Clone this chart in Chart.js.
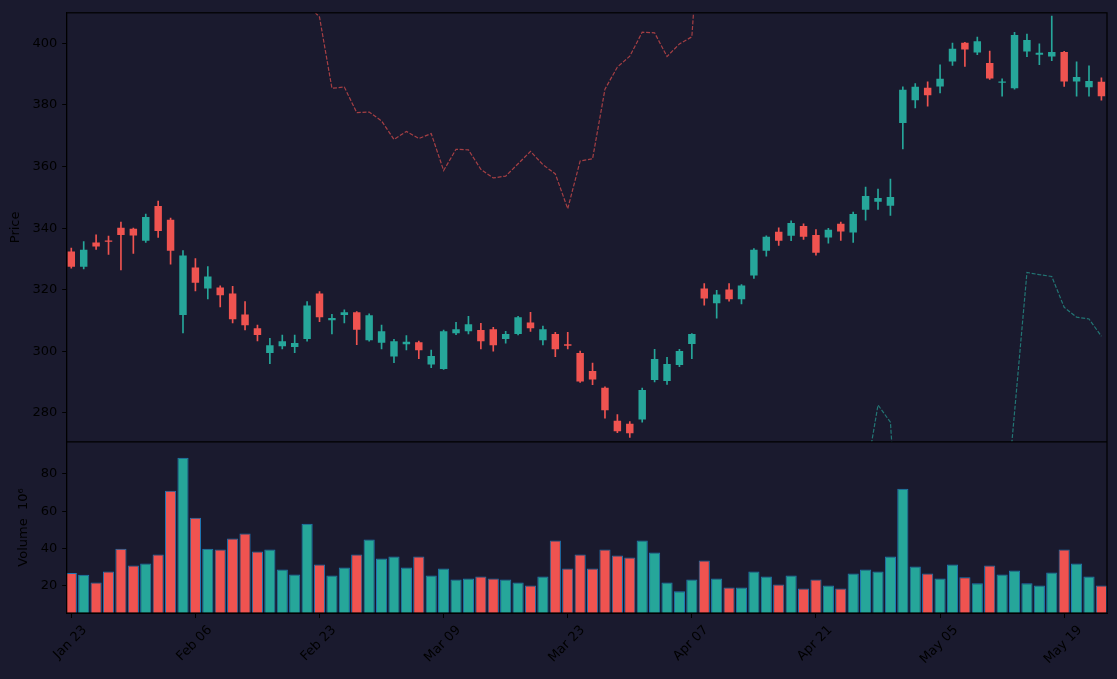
<!DOCTYPE html>
<html>
<head>
<meta charset="utf-8">
<script src="https://cdn.jsdelivr.net/npm/chart.js@4.4.1/dist/chart.umd.min.js"></script>
<style>
  html, body { margin: 0; padding: 0; background: #1a1a2e; }
  #wrap { width: 1117px; height: 679px; position: relative; }
</style>
</head>
<body>
<div id="wrap"><canvas id="c" width="1117" height="679"></canvas></div>
<script>
// ---------------- data ----------------
const dates = [
  "Jan 23","Jan 24","Jan 25","Jan 26","Jan 27","Jan 30","Jan 31","Feb 01","Feb 02","Feb 03",
  "Feb 06","Feb 07","Feb 08","Feb 09","Feb 10","Feb 13","Feb 14","Feb 15","Feb 16","Feb 17",
  "Feb 23","Feb 24","Feb 27","Feb 28","Mar 01","Mar 02","Mar 03","Mar 06","Mar 07","Mar 08",
  "Mar 09","Mar 10","Mar 13","Mar 14","Mar 15","Mar 16","Mar 17","Mar 20","Mar 21","Mar 22",
  "Mar 23","Mar 24","Mar 27","Mar 28","Mar 29","Mar 30","Mar 31","Apr 03","Apr 04","Apr 05",
  "Apr 07","Apr 10","Apr 11","Apr 12","Apr 13","Apr 14","Apr 17","Apr 18","Apr 19","Apr 20",
  "Apr 21","Apr 24","Apr 25","Apr 26","Apr 27","Apr 28","May 01","May 02","May 03","May 04",
  "May 05","May 08","May 09","May 10","May 11","May 12","May 15","May 16","May 17","May 18",
  "May 19","May 22","May 23","May 24"
];
const openP = [
  332.4,327.5,335.3,336.0,340.1,339.8,335.9,347.2,342.7,311.8,
  327.2,320.4,320.7,318.8,312.0,307.5,299.5,301.7,301.4,304.0,
  318.8,310.1,311.8,312.7,303.6,302.8,298.3,302.3,303.0,295.7,
  294.3,305.9,306.5,306.9,307.2,304.0,305.6,309.4,303.6,305.6,
  302.3,299.5,293.6,288.2,277.5,276.5,277.9,290.7,290.4,295.6,
  302.4,320.4,315.6,320.1,316.9,324.6,332.7,338.8,337.5,340.7,
  337.8,337.0,341.4,338.6,346.0,348.6,347.3,374.1,381.5,385.6,
  386.0,394.1,400.2,397.0,393.6,387.2,385.4,397.3,396.3,395.7,
  397.2,387.6,385.7,387.5
];
const highP = [
  333.5,335.6,337.8,337.4,342.0,340.0,344.6,348.8,343.3,332.7,
  330.1,327.5,321.3,321.1,316.2,308.5,304.2,305.3,305.3,316.2,
  319.4,312.0,313.5,312.9,312.2,308.5,303.9,305.1,303.3,300.4,
  306.9,309.4,311.4,309.1,307.8,306.5,311.4,312.7,308.2,306.2,
  306.2,300.1,296.2,288.5,279.5,277.2,288.1,300.7,298.1,300.7,
  305.8,322.0,319.8,322.0,321.7,333.4,337.5,340.1,342.4,341.4,
  339.5,339.9,342.0,345.2,353.3,352.7,355.9,385.9,386.9,387.5,
  393.0,400.1,400.3,402.0,397.5,388.5,403.6,403.0,399.8,408.8,
  397.4,394.0,392.7,388.8
];
const lowP = [
  327.0,326.8,333.1,331.5,326.4,331.8,335.4,337.0,328.3,306.0,
  319.6,317.0,314.4,309.2,307.0,303.4,296.0,300.8,299.6,303.3,
  309.6,305.7,309.2,302.2,303.3,300.8,296.3,300.5,297.6,294.7,
  294.1,305.4,305.7,300.8,300.1,302.7,305.3,306.5,302.1,298.3,
  300.8,289.9,289.2,278.3,273.6,272.1,277.0,290.1,289.3,295.0,
  297.6,315.0,310.8,316.3,315.4,323.7,330.9,334.4,335.9,336.3,
  331.2,335.1,336.0,335.4,342.6,346.1,344.1,365.7,379.0,379.6,
  383.9,392.8,392.5,396.3,388.3,382.8,385.1,395.7,393.1,394.4,
  386.0,382.8,382.8,381.5
];
const closeP = [
  327.5,333.0,334.0,335.6,337.8,337.6,343.6,339.1,332.7,331.1,
  322.3,324.3,318.2,310.4,308.5,305.3,302.0,303.3,302.7,314.9,
  311.1,310.8,312.7,307.0,311.7,306.5,303.3,303.1,300.4,298.5,
  306.5,307.2,308.8,303.3,302.0,305.6,311.1,307.5,307.2,300.7,
  301.8,290.2,290.9,280.9,274.1,273.4,287.5,297.5,295.9,300.1,
  305.6,317.2,318.5,316.9,321.4,333.0,337.2,335.9,341.7,337.2,
  332.0,339.5,338.9,344.6,350.4,349.8,350.1,384.9,385.9,383.1,
  388.5,398.2,398.0,400.7,388.6,387.6,402.7,401.1,396.9,397.2,
  387.6,389.1,387.8,382.8
];
// volume in millions (10^6)
const volume = [
  26.9,25.9,21.8,27.7,39.9,30.9,31.9,36.7,70.9,88.6,
  56.5,39.9,39.4,45.3,48.0,38.4,39.4,28.7,26.1,53.3,
  31.4,25.5,29.8,36.7,44.8,34.6,35.7,29.8,35.7,25.5,
  29.3,23.4,23.9,25.0,23.9,23.4,21.8,20.2,25.0,44.2,
  29.3,36.7,29.3,39.4,36.2,35.1,44.2,37.8,21.8,17.0,
  23.4,33.5,23.9,19.1,19.1,27.7,25.0,20.7,25.5,18.6,
  23.4,20.2,18.6,26.6,28.7,27.7,35.7,72.0,30.3,26.6,
  23.9,31.4,24.5,21.3,30.9,26.1,28.2,21.3,20.2,27.1,
  39.4,31.9,25.0,20.2
];
// dashed overlay lines (null = no value)
const upperLine = [
  null,null,null,null,null,null,null,null,null,null,
  null,null,null,null,null,null,null,null,null,412.7,
  408.5,385.4,385.8,377.5,377.7,374.8,368.8,371.4,369.1,370.7,
  358.7,365.6,365.4,359.1,356.3,356.9,360.9,364.9,360.6,357.6,
  346.3,361.8,362.5,385.1,392.3,395.8,403.6,403.4,395.7,399.8,
  402.1,460.0,null,null,null,null,null,null,null,null,
  null,null,null,null,null,null,null,null,null,null,
  null,null,null,null,null,null,null,null,null,null,
  null,null,null,null
];
const lowerLine = [
  null,null,null,null,null,null,null,null,null,null,
  null,null,null,null,null,null,null,null,null,null,
  null,null,null,null,null,null,null,null,null,null,
  null,null,null,null,null,null,null,null,null,null,
  null,null,null,null,null,null,null,null,null,null,
  null,null,null,null,null,null,null,null,null,null,
  null,null,null,null,259.0,282.6,277.0,215.0,null,null,
  null,null,null,null,null,235.0,280.2,325.6,324.9,324.3,
  314.3,311.1,310.5,304.9
];
const tickIdx = [0,10,20,30,40,50,60,70,80];
const priceTicks = [280,300,320,340,360,380,400];
const volTicks = [20,40,60,80];

// ---------------- styling ----------------
const UP = '#26a69a', DOWN = '#ef5350';
const FONT = '"DejaVu Sans", sans-serif';
const FS = 13;
Chart.defaults.font.family = FONT;
Chart.defaults.font.size = FS;
Chart.defaults.color = '#000';

const candleColors = closeP.map((c, i) => (c >= openP[i] ? UP : DOWN));
const pts = (arr) => arr.map((v, i) => ({ x: i, y: v }));

const framePlugin = {
  id: 'frame',
  afterDatasetsDraw(chart) {
    const { ctx, chartArea: a, scales } = chart;
    ctx.save();
    ctx.strokeStyle = '#000';
    ctx.lineWidth = 1.2;
    ctx.strokeRect(a.left, a.top, a.right - a.left, a.bottom - a.top);
    const yb = scales.y.bottom;
    ctx.beginPath();
    ctx.moveTo(a.left, yb);
    ctx.lineTo(a.right, yb);
    ctx.stroke();
    ctx.restore();
  }
};

const xLabelPlugin = {
  id: 'xlabels',
  afterDraw(chart) {
    const s = chart.scales.x;
    const ctx = chart.ctx;
    ctx.save();
    ctx.font = FS + 'px ' + FONT;
    ctx.fillStyle = '#000';
    ctx.textAlign = 'center';
    ctx.textBaseline = 'middle';
    for (const i of tickIdx) {
      const label = dates[i];
      const x = s.getPixelForValue(i);
      const w = ctx.measureText(label).width;
      const h = FS * 1.1;
      const half = (w + h) * Math.SQRT1_2 / 2;
      const cy = s.top + 10 + half;
      ctx.save();
      ctx.translate(x - 1, cy);
      ctx.rotate(-Math.PI / 4);
      ctx.fillText(label, 0, 0);
      ctx.restore();
    }
    ctx.restore();
  }
};

const yTickCommon = {
  grid: { display: true, drawOnChartArea: false, drawTicks: true, tickLength: 4.5, tickColor: '#000', tickWidth: 1 },
  border: { display: true, color: '#000', width: 1 },
  ticks: { color: '#000', padding: 5, font: { size: FS, family: FONT } },
  afterFit: (a) => { a.width = 66.7; }
};

new Chart(document.getElementById('c'), {
  type: 'bar',
  data: {
    datasets: [
      {
        type: 'bar', label: 'body', yAxisID: 'y', grouped: false,
        data: openP.map((o, i) => ({ x: i, y: [o, closeP[i]] })),
        backgroundColor: candleColors, borderWidth: 0,
        barPercentage: 0.6, categoryPercentage: 1.0
      },
      {
        type: 'bar', label: 'wick', yAxisID: 'y', grouped: false,
        data: lowP.map((l, i) => ({ x: i, y: [l, highP[i]] })),
        backgroundColor: candleColors, borderWidth: 0,
        barThickness: 1
      },
      {
        type: 'line', label: 'upper', yAxisID: 'y',
        data: pts(upperLine),
        borderColor: 'rgba(239,83,80,0.65)', borderWidth: 1.2, borderDash: [4, 1.7],
        pointRadius: 0, fill: false, tension: 0, spanGaps: false
      },
      {
        type: 'line', label: 'lower', yAxisID: 'y',
        data: pts(lowerLine),
        borderColor: 'rgba(38,166,154,0.65)', borderWidth: 1.2, borderDash: [4, 1.7],
        pointRadius: 0, fill: false, tension: 0, spanGaps: false
      },
      {
        type: 'bar', label: 'volume', yAxisID: 'yv', grouped: false,
        data: pts(volume),
        backgroundColor: candleColors, borderColor: '#1f77b4', borderWidth: 1,
        borderSkipped: false,
        barPercentage: 0.9, categoryPercentage: 1.0
      }
    ]
  },
  options: {
    responsive: false,
    devicePixelRatio: 1,
    animation: false,
    layout: { padding: { top: 9.5, right: 10, left: 0, bottom: 0 } },
    plugins: { legend: { display: false }, tooltip: { enabled: false } },
    scales: {
      x: {
        type: 'linear', position: 'bottom', min: -0.37, max: 83.45, offset: false,
        grid: { display: true, offset: false, drawOnChartArea: false, drawTicks: true, tickLength: 5, tickColor: '#000' },
        border: { display: true, color: '#000', width: 1 },
        ticks: { display: false },
        afterBuildTicks: (a) => { a.ticks = tickIdx.map(v => ({ value: v })); },
        afterFit: (a) => { a.height = 66; }
      },
      yv: Object.assign({}, yTickCommon, {
        type: 'linear', position: 'left', stack: 'panes', stackWeight: 172,
        min: 5.4, max: 97.1,
        afterBuildTicks: (a) => { a.ticks = volTicks.map(v => ({ value: v })); },
        title: { display: true, text: 'Volume  10\u2076', color: '#000', font: { size: FS, family: FONT }, padding: { top: 15.7, bottom: 0 } }
      }),
      y: Object.assign({}, yTickCommon, {
        type: 'linear', position: 'left', stack: 'panes', stackWeight: 431.5,
        min: 270.6, max: 409.9,
        afterBuildTicks: (a) => { a.ticks = priceTicks.map(v => ({ value: v })); },
        title: { display: true, text: 'Price', color: '#000', font: { size: FS, family: FONT }, padding: { top: 8.2, bottom: 0 } }
      })
    }
  },
  plugins: [framePlugin, xLabelPlugin]
});
</script>
</body>
</html>
